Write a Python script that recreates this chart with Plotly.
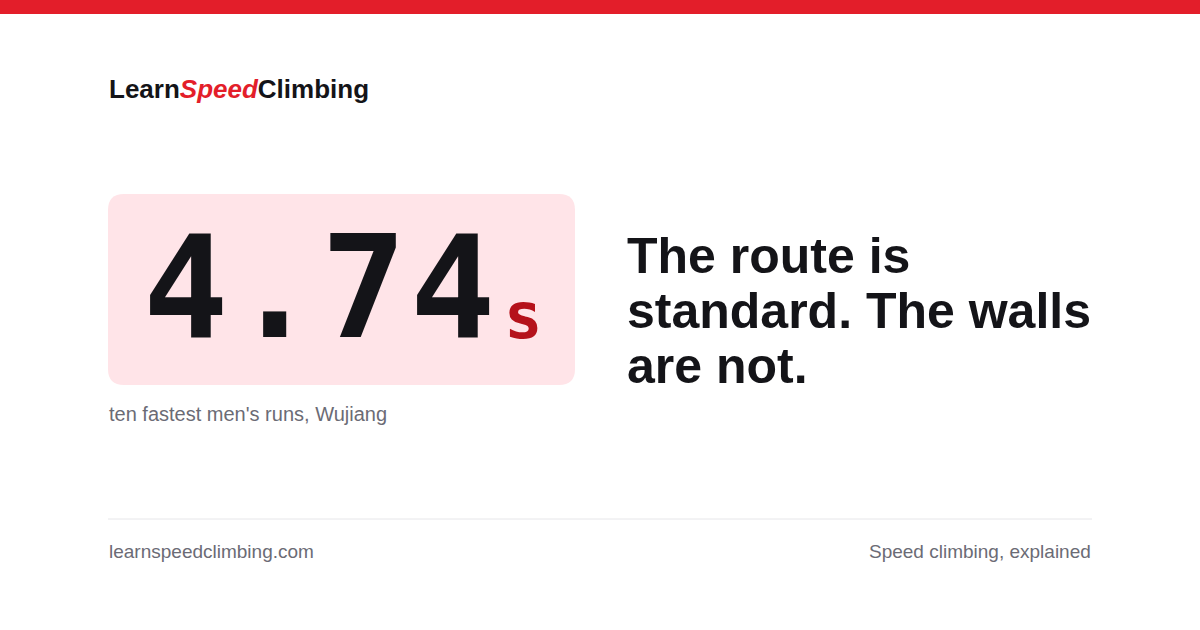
import plotly.graph_objects as go

# card content
brand = ["Learn", "Speed", "Climbing"]
stat_value = "4.74"
stat_unit = "s"
stat_caption = "ten fastest men's runs, Wujiang"
headline_lines = ["The route is", "standard. The walls", "are not."]
footer_left = "learnspeedclimbing.com"
footer_right = "Speed climbing, explained"

RED = "#e31e2a"
DARK = "#141418"
GRAY = "#6b6b75"
SANS = "Liberation Sans, Arial, Helvetica, sans-serif"
MONO = "DejaVu Sans Mono, monospace"

fig = go.Figure()

# rounded pink box behind the number
x0, x1, y0, y1, r = 108, 575, 194, 385, 16
box = (f"M{x0+r},{y0} L{x1-r},{y0} Q{x1},{y0} {x1},{y0+r} L{x1},{y1-r} "
       f"Q{x1},{y1} {x1-r},{y1} L{x0+r},{y1} Q{x0},{y1} {x0},{y1-r} "
       f"L{x0},{y0+r} Q{x0},{y0} {x0+r},{y0} Z")

shapes = [
    dict(type="rect", x0=0, x1=1200, y0=0, y1=14, fillcolor=RED, line_width=0),
    dict(type="path", path=box, fillcolor="#ffe4e8", line_width=0),
    dict(type="line", x0=108, x1=1092, y0=519, y1=519, line=dict(color="#e6e6e9", width=1)),
]

ann = []
# logo
ann.append(dict(x=108, y=89, xanchor="left", yanchor="middle",
                text=f"<b>{brand[0]}<i><span style='color:{RED}'>{brand[1]}</span></i>{brand[2]}</b>",
                font=dict(family=SANS, size=26, color=DARK)))

# big number, one character at a time (tight tracking)
for i, ch in enumerate(stat_value):
    ann.append(dict(x=186 + 89 * i, y=287, xanchor="center", yanchor="middle",
                    text=f"<b>{ch}</b>", font=dict(family=MONO, size=142, color=DARK)))
ann.append(dict(x=523, y=316, xanchor="center", yanchor="middle",
                text=f"<b>{stat_unit}</b>", font=dict(family=MONO, size=64, color="#b5121b")))

ann.append(dict(x=108, y=414, xanchor="left", yanchor="middle", text=stat_caption,
                font=dict(family=SANS, size=20, color=GRAY)))

# headline
for i, line in enumerate(headline_lines):
    ann.append(dict(x=626, y=256 + 55 * i, xanchor="left", yanchor="middle",
                    text=f"<b>{line}</b>", font=dict(family=SANS, size=50, color=DARK)))

# footer
ann.append(dict(x=108, y=551, xanchor="left", yanchor="middle", text=footer_left,
                font=dict(family=SANS, size=19, color=GRAY)))
ann.append(dict(x=1092, y=551, xanchor="right", yanchor="middle", text=footer_right,
                font=dict(family=SANS, size=19, color=GRAY)))

for a in ann:
    a.update(xref="x", yref="y", showarrow=False, borderpad=0)

fig.update_layout(
    width=1200, height=630,
    margin=dict(l=0, r=0, t=0, b=0),
    paper_bgcolor="white", plot_bgcolor="white",
    xaxis=dict(range=[0, 1200], visible=False, fixedrange=True),
    yaxis=dict(range=[630, 0], visible=False, fixedrange=True),
    shapes=shapes, annotations=ann, showlegend=False,
)

fig.write_html("out.html", config={"displayModeBar": False},
               post_script="document.body.style.margin='0';document.body.style.overflow='hidden';")
